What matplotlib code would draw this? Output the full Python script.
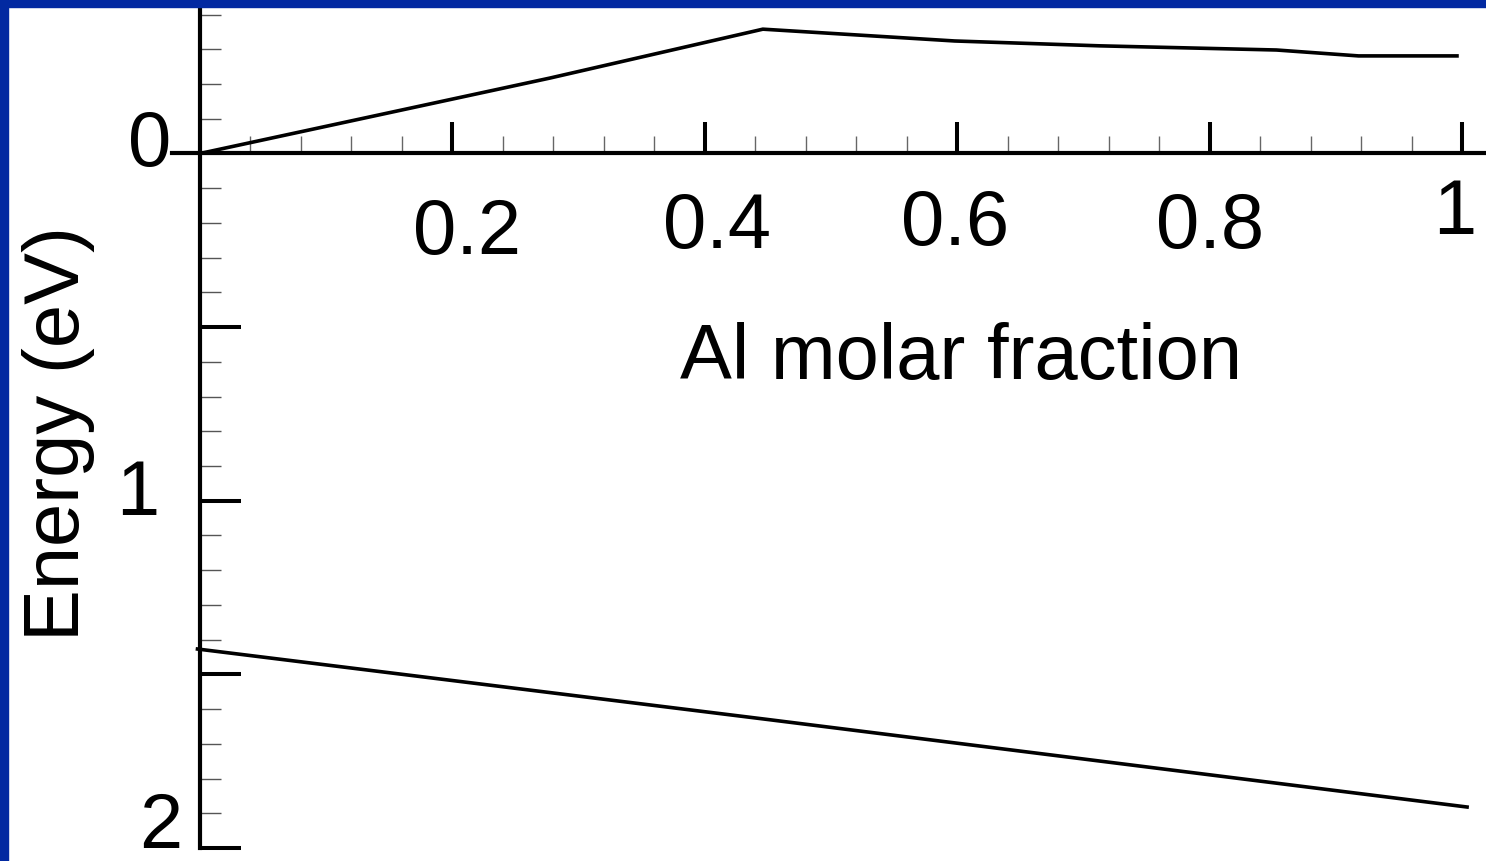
import matplotlib as mpl
mpl.use('Agg')
import matplotlib.pyplot as plt
import matplotlib.transforms as mtransforms
from matplotlib.patches import Rectangle

# band edges vs Al fraction (energy axis points down)
x_upper = [0.0, 0.277, 0.446, 0.598, 0.713, 0.853, 0.918, 0.996]
e_upper = [0.0, -0.217, -0.358, -0.324, -0.310, -0.298, -0.281, -0.281]
x_lower = [-0.002, 0.45, 1.004]
e_lower = [1.427, 1.63, 1.882]

x_ticks = [0.2, 0.4, 0.6, 0.8, 1.0]
x_ticklabels = ['0.2', '0.4', '0.6', '0.8', '1']
x_minor = [0.04, 0.08, 0.12, 0.16, 0.24, 0.28, 0.32, 0.36, 0.44, 0.48, 0.52,
           0.56, 0.64, 0.68, 0.72, 0.76, 0.84, 0.88, 0.92, 0.96]
y_ticks = [0, 0.5, 1, 1.5, 2]
y_ticklabels = ['0', '', '1', '', '2']
y_minor = [-0.4, -0.3, -0.2, -0.1, 0.1, 0.2, 0.3, 0.4, 0.6, 0.7, 0.8, 0.9,
           1.1, 1.2, 1.3, 1.4, 1.6, 1.7, 1.8, 1.9]

plt.rcParams['font.family'] = ['Liberation Sans', 'DejaVu Sans']
FS = 56

W, H = 1486, 861
fig = plt.figure(figsize=(W / 100, H / 100), dpi=100)
fig.patch.set_facecolor('white')

ax = fig.add_axes([172 / W, 13 / H, 1 - 172 / W, 1 - 13 / H])
ax.set_facecolor('none')
ax.plot(x_upper, e_upper, color='black', lw=2.6, solid_joinstyle='miter')
ax.plot(x_lower, e_lower, color='black', lw=2.6)

ax.set_xlim(-0.0222, 1.019)
ax.set_ylim(2.0, -0.442)

for side in ['top', 'right']:
    ax.spines[side].set_visible(False)
ax.spines['left'].set_position(('data', 0))
ax.spines['bottom'].set_position(('data', 0))
for side in ['left', 'bottom']:
    ax.spines[side].set_linewidth(3.0)

ax.set_xticks(x_ticks)
ax.set_xticklabels(x_ticklabels)
ax.set_xticks(x_minor, minor=True)
ax.set_yticks(y_ticks)
ax.set_yticklabels(y_ticklabels)
ax.set_yticks(y_minor, minor=True)

ax.tick_params(axis='x', which='major', direction='in', length=22.5, width=2.9,
               pad=0, labelsize=FS)
ax.tick_params(axis='x', which='minor', direction='in', length=12, width=1.0,
               color='#666666')
ax.tick_params(axis='y', which='major', direction='in', length=29.5, width=2.9,
               pad=0, labelsize=FS)
ax.tick_params(axis='y', which='minor', direction='in', length=15, width=1.0,
               color='#555555')

# hand placed tick labels (pixel nudges)
x_nudge = [(14.5, -100.5), (12, -94.7), (-2, -91.5), (0, -94.5), (-7, -80.5)]
for lab, (dx, dy) in zip(ax.get_xticklabels(), x_nudge):
    lab.set_verticalalignment('baseline')
    lab.set_horizontalalignment('center')
    lab.set_transform(lab.get_transform() +
                      mtransforms.ScaledTranslation(dx / 100, dy / 100, fig.dpi_scale_trans))
y_nudge = [(-28.5, -12.5), (0, 0), (-41, -14.3), (0, 0), (-17.5, 0)]
for lab, (dx, dy) in zip(ax.get_yticklabels(), y_nudge):
    lab.set_verticalalignment('baseline')
    lab.set_horizontalalignment('right')
    lab.set_transform(lab.get_transform() +
                      mtransforms.ScaledTranslation(dx / 100, dy / 100, fig.dpi_scale_trans))

ax.set_xlabel('Al molar fraction', fontsize=FS)
ax.xaxis.set_label_coords(0.603, 0.589, transform=ax.transData)
ax.xaxis.label.set_verticalalignment('center')
ax.set_ylabel('Energy (eV)', fontsize=FS)
ax.yaxis.set_label_coords(-0.1125, 0.806, transform=ax.transData)
ax.yaxis.label.set_verticalalignment('center')

# blue slide frame
blue = '#0229a1'
fig.patches.append(Rectangle((0, 0), 8 / W, 1, transform=fig.transFigure,
                             color=blue, zorder=10))
fig.patches.append(Rectangle((0, 1 - 7 / H), 1, 7 / H, transform=fig.transFigure,
                             color=blue, zorder=10))

plt.savefig('out.png', dpi=100)
